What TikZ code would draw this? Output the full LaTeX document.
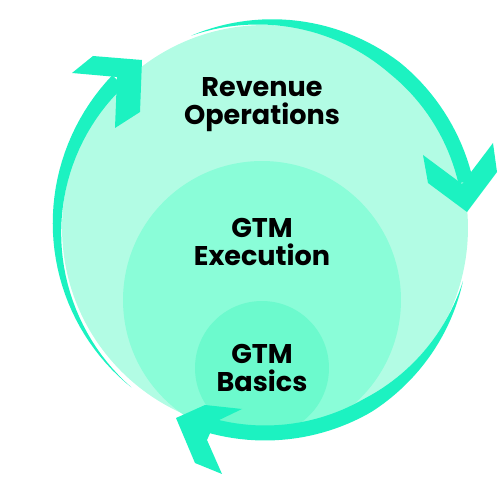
\documentclass[tikz,border=0pt]{standalone}
\usepackage{fontspec}
\setsansfont{Poppins}

\definecolor{ringgreen}{HTML}{1CF2C1}
\definecolor{opsfill}{HTML}{B2FCE4}
\definecolor{execfill}{HTML}{8AFDD8}
\definecolor{basicsfill}{HTML}{6CFACD}

\begin{document}
\begin{tikzpicture}[x=0.02cm, y=0.02cm,
    disc/.style={circle, inner sep=0pt},
    caption/.style={font=\sffamily\bfseries\fontsize{15.4}{15.9}\selectfont, align=center, text=black}]
      \useasboundingbox (0,0) rectangle (500,500);

      \node at (265,272) [disc, fill=opsfill, minimum size=8.12cm] (ops) {};
      \node at (262,200) [disc, fill=execfill, minimum size=5.56cm] (exec) {};
      \node at (262,132) [disc, fill=basicsfill, minimum size=2.68cm] (basics) {};

      % tapered bands round the outer circle
      \begin{scope}[shift={(ops.center)}]
        \fill[ringgreen] plot[domain=135:230, samples=40] (\x:{208+8*(230-\x)/95})
          -- plot[domain=230:135, samples=40] (\x:{208-8*(230-\x)/95}) -- cycle;
        \fill[ringgreen] plot[domain=111:13, samples=50] (\x:{206+7.5*min(1,(111-\x)/60)})
          -- plot[domain=13:111, samples=50] (\x:{206-7.5*min(1,(111-\x)/60)}) -- cycle;
        \fill[ringgreen] plot[domain=-15:-106, samples=50] (\x:{205+7.5*min(1,(-15-\x)/45)})
          -- plot[domain=-106:-15, samples=50] (\x:{205-7.5*min(1,(-15-\x)/45)}) -- cycle;
      \end{scope}

      % arrow heads
      \fill[ringgreen] (72,427) -- (117,423) -- (115,372) -- (140,388) -- (142,440) -- (93,444) -- cycle;
      \fill[ringgreen] (423,345) -- (462,316) -- (493,357) -- (497,328) -- (467,288) -- (428,317) -- cycle;
      \fill[ringgreen] (176,82) -- (205,95) -- (242,91) -- (215,78) -- (207,60) -- (222,26) -- (195,37) -- cycle;

      \node at (262,395) [caption] (opslabel) {Revenue\\Operations};
      \node at (262,258) [caption] (execlabel) {GTM\\Execution};
      \node at (262,132) [caption] (basicslabel) {GTM\\Basics};
\end{tikzpicture}
\end{document}
